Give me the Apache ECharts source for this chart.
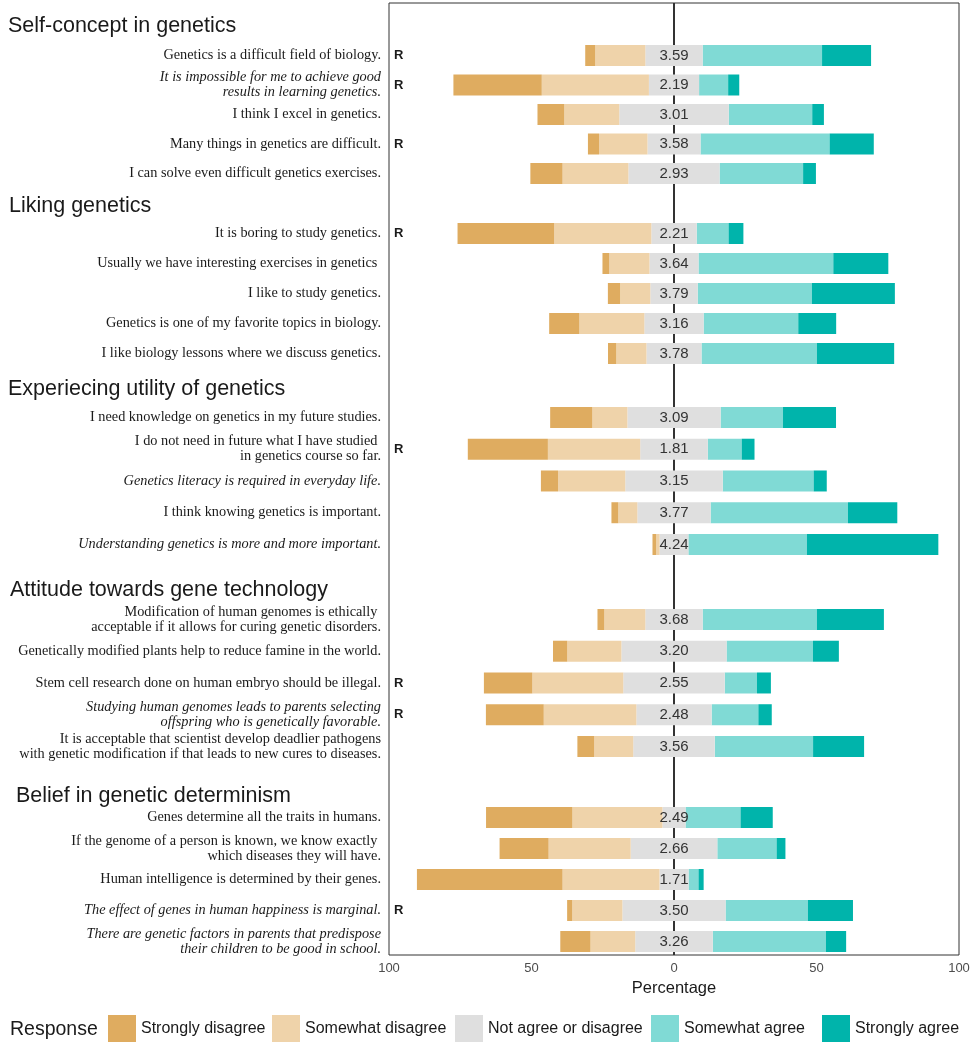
<!DOCTYPE html>
<html>
<head>
<meta charset="utf-8">
<script src="https://cdn.jsdelivr.net/npm/echarts@6.0.0/dist/echarts.min.js"></script>
<style>
html,body{margin:0;padding:0;background:#fff;}
#chart{width:973px;height:1042px;}
</style>
</head>
<body>
<div id="chart"></div>
<script>
// ---------------- DATA ----------------
const sections = [
  "Self-concept in genetics",
  "Liking genetics",
  "Experiecing utility of genetics",
  "Attitude towards gene technology",
  "Belief in genetic determinism"
];
const sectionSizes = [5, 5, 5, 5, 5];
const items = [
  "Genetics is a difficult field of biology.",
  "It is impossible for me to achieve good\nresults in learning genetics.",
  "I think I excel in genetics.",
  "Many things in genetics are difficult.",
  "I can solve even difficult genetics exercises.",
  "It is boring to study genetics.",
  "Usually we have interesting exercises in genetics ",
  "I like to study genetics.",
  "Genetics is one of my favorite topics in biology.",
  "I like biology lessons where we discuss genetics.",
  "I need knowledge on genetics in my future studies.",
  "I do not need in future what I have studied \nin genetics course so far.",
  "Genetics literacy is required in everyday life.",
  "I think knowing genetics is important.",
  "Understanding genetics is more and more important.",
  "Modification of human genomes is ethically \nacceptable if it allows for curing genetic disorders.",
  "Genetically modified plants help to reduce famine in the world.",
  "Stem cell research done on human embryo should be illegal.",
  "Studying human genomes leads to parents selecting\noffspring who is genetically favorable.",
  "It is acceptable that scientist develop deadlier pathogens\nwith genetic modification if that leads to new cures to diseases.",
  "Genes determine all the traits in humans.",
  "If the genome of a person is known, we know exactly \nwhich diseases they will have.",
  "Human intelligence is determined by their genes.",
  "The effect of genes in human happiness is marginal.",
  "There are genetic factors in parents that predispose\ntheir children to be good in school."
];
const reversedItems = [1,1,0,1,0, 1,0,0,0,0, 0,1,0,0,0, 0,0,1,1,0, 0,0,0,1,0];
const italicItems   = [0,1,0,0,0, 0,0,0,0,0, 0,0,1,0,1, 0,0,0,1,0, 0,0,0,1,1];

const stronglyDisagree = [3.5,31.0,9.4,3.9,11.3, 33.9,2.4,4.3,10.6,2.9, 14.8,28.1,6.0,2.4,1.3, 2.4,5.0,17.0,20.3,5.9, 30.3,17.2,51.1,1.8,10.6];
const somewhatDisagree = [17.6,37.6,19.3,17.0,23.1, 34.1,14.1,10.6,22.8,10.6, 12.3,32.4,23.6,6.7,1.2, 14.4,19.0,31.9,32.5,13.7, 31.6,28.8,34.0,17.6,15.7];
const neutral          = [20.1,17.6,38.4,18.6,32.0, 15.9,17.2,16.6,20.8,19.3, 32.7,23.7,34.2,25.7,10.1, 20.1,36.9,35.6,26.4,28.6, 8.1,30.4,10.2,36.2,27.2];
const somewhatAgree    = [41.9,10.2,29.3,45.3,29.3, 11.2,47.3,40.1,33.2,40.5, 21.9,11.9,31.9,48.2,41.6, 40.1,30.3,11.3,16.4,34.5, 19.3,20.8,3.5,28.9,39.7];
const stronglyAgree    = [17.2,3.9,4.1,15.5,4.5, 5.2,19.3,29.1,13.3,27.1, 18.6,4.5,4.6,17.3,46.1, 23.5,9.1,4.9,4.7,17.9, 11.3,3.1,1.8,15.8,7.1];
const means = [3.59,2.19,3.01,3.58,2.93, 2.21,3.64,3.79,3.16,3.78, 3.09,1.81,3.15,3.77,4.24, 3.68,3.20,2.55,2.48,3.56, 2.49,2.66,1.71,3.50,3.26];
const responses = ["Strongly disagree","Somewhat disagree","Not agree or disagree","Somewhat agree","Strongly agree"];
const xTickValues = [-100, -50, 0, 50, 100];

// ---------------- STYLE / LAYOUT ----------------
const colors = {
  "Strongly disagree": "#DFAC60",
  "Somewhat disagree": "#EFD3AA",
  "Not agree or disagree": "#DFDFDF",
  "Somewhat agree": "#80DAD5",
  "Strongly agree": "#00B4AB"
};
const plotLeft = 389, plotRight = 14, plotTop = 3, plotBottom = 87;
const sectionLayout = [
  {top: 40.75, height: 147.5},
  {top: 218.5, height: 150},
  {top: 401.6, height: 158.75},
  {top: 603.6, height: 158.75},
  {top: 802,   height: 155}
];
const headerPos = [
  {left: 8, top: 15}, {left: 9, top: 195.5}, {left: 8, top: 378}, {left: 10, top: 579.5}, {left: 16, top: 785}
];
const legendLefts = [108, 272, 455, 651, 822];
const sans = "Liberation Sans, Arial, sans-serif";
const serif = "Liberation Serif, Times New Roman, serif";
const plotWidth = 973 - plotLeft - plotRight;

const grid = [], xAxis = [], yAxis = [], series = [], title = [];
let offset = 0;
sections.forEach((sec, s) => {
  const n = sectionSizes[s];
  const a = offset;
  const cats = items.slice(a, a + n);
  grid.push({left: plotLeft, right: plotRight, top: sectionLayout[s].top, height: sectionLayout[s].height, containLabel: false});
  xAxis.push({gridIndex: s, type: 'value', min: -100, max: 100, interval: 50, show: false});
  // main labels axis
  yAxis.push({
    gridIndex: s, type: 'category', inverse: true, data: cats, position: 'left',
    axisLine: {show: false, onZero: false}, axisTick: {show: false}, splitLine: {show: false},
    axisLabel: {
      interval: 0, margin: 8,
      formatter: (v, i) => (italicItems[a + i] ? '{i|' : '{n|') + v + '}',
      rich: {
        i: {fontFamily: serif, fontStyle: 'italic', fontSize: 14.3, lineHeight: 15, color: '#1a1a1a', align: 'right'},
        n: {fontFamily: serif, fontSize: 14.3, lineHeight: 15, color: '#1a1a1a', align: 'right'}
      }
    }
  });
  const labelAxisIndex = yAxis.length - 1;
  // reversed-item marker axis
  yAxis.push({
    gridIndex: s, type: 'category', inverse: true, data: cats, position: 'right', offset: -(plotWidth - 5),
    axisLine: {show: false, onZero: false}, axisTick: {show: false}, splitLine: {show: false},
    axisLabel: {
      interval: 0, margin: 0, fontFamily: sans, fontWeight: 'bold', fontSize: 13, color: '#1a1a1a',
      formatter: (v, i) => reversedItems[a + i] ? 'R' : ''
    }
  });
  const slice = arr => arr.slice(a, a + n);
  const mk = (name, data, extra) => Object.assign({
    type: 'bar', name, stack: 'sec' + s, xAxisIndex: s, yAxisIndex: labelAxisIndex,
    data, barWidth: 21, itemStyle: {color: colors[name]}, emphasis: {disabled: true}
  }, extra || {});
  series.push(mk("Not agree or disagree", slice(neutral).map(v => -v / 2)));
  series.push(mk("Somewhat disagree", slice(somewhatDisagree).map(v => -v)));
  series.push(mk("Strongly disagree", slice(stronglyDisagree).map(v => -v)));
  series.push(mk("Not agree or disagree", slice(neutral).map(v => v / 2), {
    z: 3,
    label: {
      show: true, position: [0, '50%'], align: 'center', verticalAlign: 'middle',
      fontFamily: sans, fontSize: 15, color: '#333',
      formatter: p => means[a + p.dataIndex].toFixed(2)
    }
  }));
  series.push(mk("Somewhat agree", slice(somewhatAgree)));
  series.push(mk("Strongly agree", slice(stronglyAgree)));
  title.push({text: sec, left: headerPos[s].left, top: headerPos[s].top, padding: 0,
    textStyle: {fontFamily: sans, fontSize: 21.5, fontWeight: 'normal', color: '#1a1a1a'}});
  offset += n;
});

// outer panel (border, x axis, zero line)
const outer = grid.length;
grid.push({left: plotLeft, right: plotRight, top: plotTop, bottom: plotBottom, show: true,
  borderColor: '#333', borderWidth: 1, backgroundColor: 'transparent'});
xAxis.push({gridIndex: outer, type: 'value', min: xTickValues[0], max: xTickValues[xTickValues.length - 1],
  interval: xTickValues[1] - xTickValues[0],
  axisLine: {show: false, onZero: false}, axisTick: {show: false}, splitLine: {show: false},
  axisLabel: {margin: 7, fontFamily: sans, fontSize: 13, color: '#4d4d4d', formatter: v => String(Math.abs(v))},
  name: 'Percentage', nameLocation: 'middle', nameGap: 23,
  nameTextStyle: {fontFamily: sans, fontSize: 16.5, color: '#1a1a1a'}});
yAxis.push({gridIndex: outer, type: 'value', min: 0, max: 1, show: false});
series.push({type: 'scatter', xAxisIndex: outer, yAxisIndex: yAxis.length - 1, data: [], z: 0, zlevel: 0, silent: true,
  markLine: {silent: true, z: 0, symbol: 'none', label: {show: false}, animation: false,
    lineStyle: {color: '#333', width: 2, type: 'solid'}, data: [{xAxis: 0}]}});

title.push({text: 'Response', left: 10, top: 1019.5, padding: 0,
  textStyle: {fontFamily: sans, fontSize: 19.5, fontWeight: 'normal', color: '#1a1a1a'}});

const legend = responses.map((r, i) => ({
  left: legendLefts[i], top: 1015, padding: 0, itemWidth: 28, itemHeight: 28, icon: 'rect',
  selectedMode: false, data: [r],
  textStyle: {fontFamily: sans, fontSize: 16, color: '#1a1a1a'}
}));

const chart = echarts.init(document.getElementById('chart'), null, {renderer: 'canvas'});
chart.setOption({animation: false, backgroundColor: '#fff', title, legend, grid, xAxis, yAxis, series});
</script>
</body>
</html>
